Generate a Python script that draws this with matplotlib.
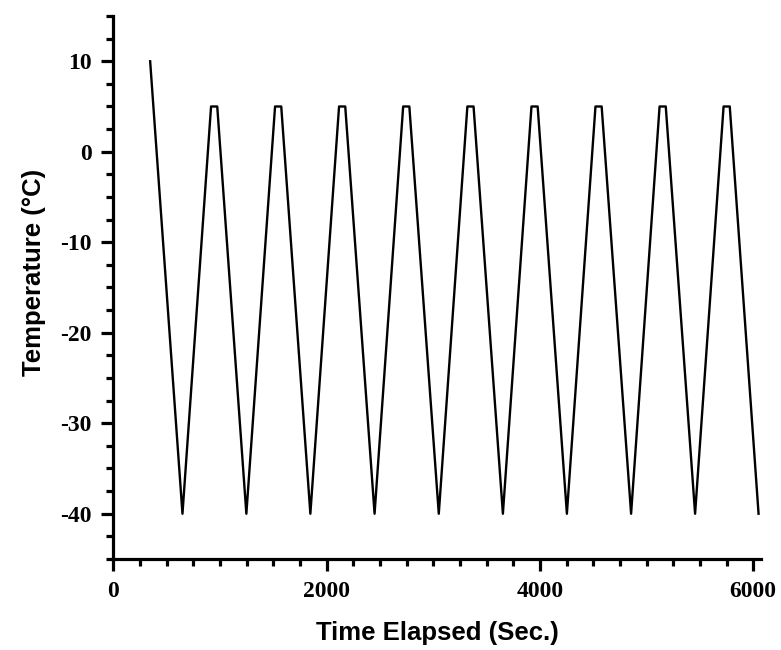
import numpy as np
import matplotlib.pyplot as plt
from matplotlib.ticker import MultipleLocator

plt.rcParams["axes.unicode_minus"] = False

# time (s) of each turning point and the temperature there
time_s = [346, 649, 917, 975, 1248, 1517, 1575, 1848, 2117, 2175, 2450,
          2718, 2776, 3052, 3320, 3378, 3653, 3921, 3979, 4253, 4521, 4579,
          4855, 5122, 5180, 5455, 5722, 5780, 6050]
temp_c = [10, -40, 5, 5, -40, 5, 5, -40, 5, 5, -40,
          5, 5, -40, 5, 5, -40, 5, 5, -40, 5, 5,
          -40, 5, 5, -40, 5, 5, -40]

fig = plt.figure(figsize=(7.81, 6.5), dpi=100)
ax = fig.add_axes([0.145, 0.14, 0.829, 0.8354])
ax.plot(time_s, temp_c, color="black", linewidth=1.7)

ax.set_xlim(0, 6070)
ax.set_ylim(-45, 15)
ax.xaxis.set_major_locator(MultipleLocator(2000))
ax.xaxis.set_minor_locator(MultipleLocator(250))
ax.yaxis.set_major_locator(MultipleLocator(10))
ax.yaxis.set_minor_locator(MultipleLocator(2.5))

for side in ["top", "right"]:
    ax.spines[side].set_visible(False)
for side in ["left", "bottom"]:
    ax.spines[side].set_linewidth(2.3)

ax.tick_params(which="major", length=8.5, width=2.3, pad=7)
ax.tick_params(which="minor", length=5, width=2.3)

for lab in ax.get_xticklabels() + ax.get_yticklabels():
    lab.set_fontfamily("Liberation Serif")
    lab.set_fontweight("bold")
    lab.set_fontsize(17)

ax.set_xlabel("Time Elapsed (Sec.)", fontfamily="Liberation Sans",
              fontweight="bold", fontsize=18.5, labelpad=14)
ax.set_ylabel("Temperature (°C)", fontfamily="Liberation Sans",
              fontweight="bold", fontsize=18.5, labelpad=10, y=0.527)

fig.savefig("out.png", dpi=100)
